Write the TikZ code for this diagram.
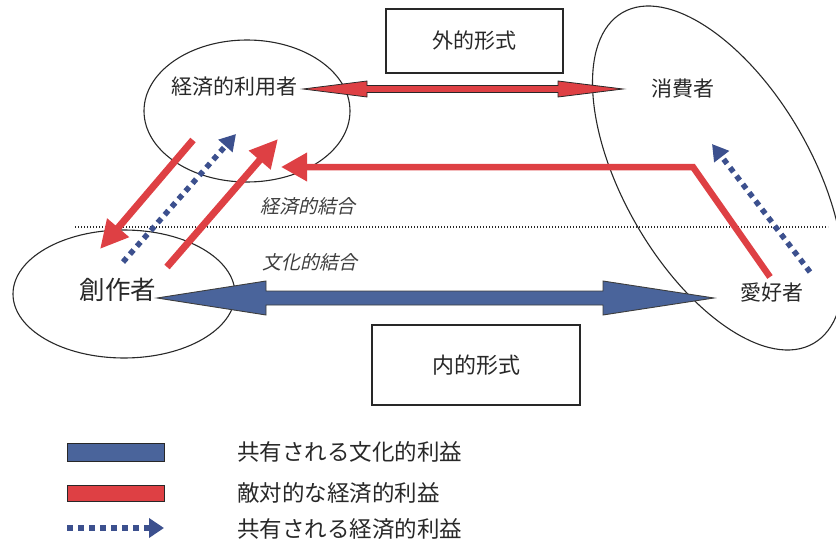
\documentclass[tikz,border=0pt]{standalone}
\usepackage{fontspec}
\setmainfont{Noto Sans CJK JP}
\newfontfamily\cjkit[FakeSlant=0.22]{Noto Sans CJK JP}
\usetikzlibrary{arrows.meta,shapes.geometric,calc}
\definecolor{myred}{RGB}{222,64,68}
\definecolor{myblue}{RGB}{74,100,155}
\definecolor{dotblue}{RGB}{60,80,142}
\definecolor{ink}{RGB}{40,40,40}
\begin{document}
\begin{tikzpicture}[x=1pt,y=-1pt,
  lbl/.style={inner sep=0pt, text=ink, font=\fontsize{21pt}{24pt}\selectfont},
  biglbl/.style={inner sep=0pt, text=ink, font=\fontsize{25.5pt}{28pt}\selectfont},
  itlbl/.style={inner sep=0pt, text=ink!90, font=\cjkit\fontsize{19pt}{22pt}\selectfont},
  leglbl/.style={inner sep=0pt, anchor=west, text=ink, font=\fontsize{22.5pt}{25pt}\selectfont},
  ell/.style={draw=ink, ellipse, line width=1.1pt, inner sep=0pt},
  formbox/.style={draw=ink, line width=1.2pt, inner sep=0pt, fill=white},
  redline/.style={draw=myred, line width=7pt, line join=miter,
    -{Triangle[length=28pt,width=27pt]}, myred},
  dotarrow/.style={draw=dotblue, line width=5.5pt, dash pattern=on 5.5pt off 5pt,
    -{Triangle[length=16pt,width=18pt]}, dotblue},
  reddbl/.style={fill=myred, draw=ink, line width=0.8pt, line join=miter},
  bluedbl/.style={fill=myblue, draw=ink!90, line width=0.9pt, line join=miter},
  sepline/.style={draw=ink, line width=1.2pt, dash pattern=on 1.4pt off 1.6pt},
]
\useasboundingbox (0,0) rectangle (836,543);
\clip (0,0) rectangle (836,543);

% ellipses
\node[ell, minimum width=206pt, minimum height=142pt] (eTop) at (247,111) {};
\node[ell, minimum width=222pt, minimum height=128pt] (eCre) at (124,294) {};
\node[ell, minimum width=382pt, minimum height=188pt, rotate=-60] (eRight) at (718,178) {};

% boxes
\node[formbox, minimum width=177pt, minimum height=64pt] (outer) at (474.5,41) {};
\node[lbl] at (outer.center) {外的形式};
\node[formbox, minimum width=208pt, minimum height=80pt] (inner) at (476,365) {};
\node[lbl, font=\fontsize{22pt}{24pt}\selectfont] at (inner.center) {内的形式};

% labels
\node[lbl] (eu) at (234,87) {経済的利用者};
\node[lbl] (cons) at (683,89) {消費者};
\node[biglbl] (cre) at (118,290) {創作者};
\node[lbl] (fan) at (772,293) {愛好者};
\node[itlbl] (kei) at (308,206) {経済的結合};
\node[itlbl] (bun) at (310,262) {文化的結合};

% separator
\coordinate (sepL) at (75,227);
\coordinate (sepR) at (828,227);
\draw[sepline] (sepL) -- (sepR);

% red double arrow (top)
\coordinate (uL) at (303,89);
\coordinate (uR) at (623,89);
\draw[reddbl] (uL) -- ($(uL)+(64,-8)$) -- ($(uL)+(64,-3.5)$) -- ($(uR)+(-65,-3.5)$)
  -- ($(uR)+(-65,-8)$) -- (uR) -- ($(uR)+(-65,8)$) -- ($(uR)+(-65,3.5)$)
  -- ($(uL)+(64,3.5)$) -- ($(uL)+(64,8)$) -- cycle;

% blue double arrow (bottom)
\coordinate (cL) at (157,298);
\coordinate (cR) at (714,298);
\draw[bluedbl] (cL) -- ($(cL)+(109,-17)$) -- ($(cL)+(109,-7)$) -- ($(cR)+(-111,-7)$)
  -- ($(cR)+(-111,-17)$) -- (cR) -- ($(cR)+(-111,17)$) -- ($(cR)+(-111,7)$)
  -- ($(cL)+(109,7)$) -- ($(cL)+(109,17)$) -- cycle;

% left diagonal arrows
\coordinate (a1s) at (193,140);
\coordinate (a1e) at (100,249);
\draw[redline] (a1s) -- (a1e);
\coordinate (d1s) at (123,262);
\coordinate (d1e) at (236,134);
\draw[dotarrow] (d1s) -- (d1e);
\coordinate (a2s) at (167,267);
\coordinate (a2e) at (278,139);
\draw[redline] (a2s) -- (a2e);

% right side arrows
\coordinate (r1s) at (770,277);
\coordinate (r1c) at (693,167);
\coordinate (r1e) at (281,167);
\draw[redline, line width=6.5pt, -{Triangle[length=26pt,width=27pt]}] (r1s) -- (r1c) -- (r1e);
\coordinate (d2s) at (810,272);
\coordinate (d2e) at (712,144);
\draw[dotarrow] (d2s) -- (d2e);

% legend
\node[fill=myblue, draw=ink, line width=0.9pt, minimum width=97pt, minimum height=18pt, inner sep=0pt] (legB) at (115.5,452) {};
\node[fill=myred, draw=ink, line width=0.9pt, minimum width=97pt, minimum height=16pt, inner sep=0pt] (legR) at (115.5,493) {};
\coordinate (legDs) at (67,528);
\coordinate (legDe) at (164,528);
\draw[dotarrow, dash pattern=on 6pt off 5pt, -{Triangle[length=15pt,width=19pt]}] (legDs) -- (legDe);
\node[leglbl] (t1) at (237,452) {共有される文化的利益};
\node[leglbl] (t2) at (237,493) {敵対的な経済的利益};
\node[leglbl] (t3) at (237,529) {共有される経済的利益};
\end{tikzpicture}
\end{document}
